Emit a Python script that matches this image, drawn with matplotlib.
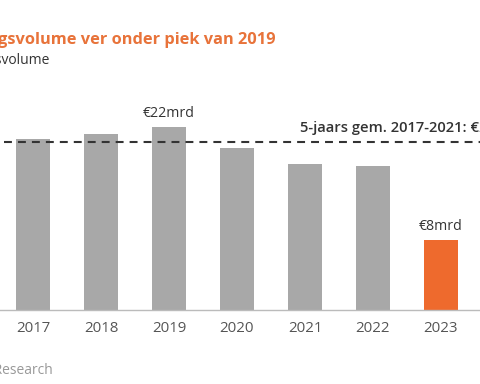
import matplotlib
matplotlib.use("Agg")
import matplotlib.pyplot as plt

plt.rcParams['font.family'] = ['Open Sans', 'DejaVu Sans']

years = ['2017', '2018', '2019', '2020', '2021', '2022', '2023']
volume = [20.5, 21.1, 22.0, 19.4, 17.5, 17.3, 8.4]
avg_5y = 20.2
bar_labels = {2: '€22mrd', 6: '€8mrd'}

grey = '#a8a8a8'
orange = '#ee6a2d'
colors = [grey] * 6 + [orange]

fig = plt.figure(figsize=(4.8, 3.84), dpi=100, facecolor='white')
# axes spans full width, baseline at y=310px, top at y=80px
ax = fig.add_axes([0, 74 / 384, 1, 230 / 384])
ax.set_facecolor('white')

x = list(range(len(years)))
ax.bar(x, volume, width=0.5, color=colors, zorder=2)
ax.set_xlim(-33 / 68, 447 / 68)
ax.set_ylim(0, 230 / 8.33)

ax.axhline(avg_5y, xmin=4 / 480, xmax=1, color='#333333', lw=1.5,
           dashes=(3.8, 2.9), zorder=3)
ax.text(300 / 68 - 33 / 68, avg_5y + 1.6, '5-jaars gem. 2017-2021: €20mrd',
        ha='left', va='center', fontsize=10.6, color='#333333',
        fontweight='semibold', clip_on=False)

for i, lab in bar_labels.items():
    ax.text(i, volume[i] + 1.6, lab, ha='center', va='center',
            fontsize=10.2, color='#333333')

for s in ['top', 'right', 'left']:
    ax.spines[s].set_visible(False)
ax.spines['bottom'].set_color('#bbbbbb')
ax.spines['bottom'].set_linewidth(1)
ax.set_yticks([])
ax.set_xticks(x)
ax.set_xticklabels(years, fontsize=10.8, color='#555555')
ax.tick_params(axis='x', length=0, pad=8)

fig.text(276 / 480, 1 - 40 / 384, 'Beleggingsvolume ver onder piek van 2019',
         ha='right', va='center', fontsize=11.8, fontweight='bold',
         color='#e8733a')
fig.text(50 / 480, 1 - 60 / 384, 'Beleggingsvolume', ha='right', va='center',
         fontsize=10, color='#333333')
fig.text(53 / 480, 1 - 371 / 384, 'Bron: ING Research', ha='right',
         va='center', fontsize=10, color='#999999')

fig.savefig('out.png', dpi=100, facecolor='white')
